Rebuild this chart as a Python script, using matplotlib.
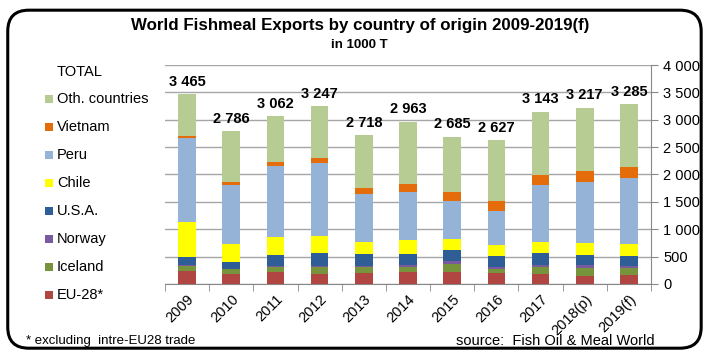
import matplotlib.pyplot as plt
import numpy as np
from matplotlib.patches import FancyBboxPatch, Rectangle

# Fishmeal exports, 1000 t, stacked bottom to top
years = ['2009', '2010', '2011', '2012', '2013', '2014', '2015', '2016', '2017', '2018(p)', '2019(f)']
totals = [3465, 2786, 3062, 3247, 2718, 2963, 2685, 2627, 3143, 3217, 3285]
eu28 = [240, 185, 225, 190, 200, 225, 225, 207, 188, 152, 164]
iceland = [85, 80, 80, 126, 110, 85, 140, 73, 116, 140, 128]
norway = [20, 18, 18, 18, 18, 30, 55, 30, 43, 49, 37]
usa = [155, 120, 200, 238, 213, 207, 206, 201, 213, 182, 176]
chile = [625, 323, 335, 310, 231, 261, 195, 207, 207, 231, 231]
peru = [1545, 1090, 1296, 1332, 864, 864, 700, 620, 1034, 1108, 1193]
vietnam = [30, 55, 73, 91, 121, 158, 152, 171, 188, 205, 201]
others = [t - e - i - n - u - c - p - v for t, e, i, n, u, c, p, v in
          zip(totals, eu28, iceland, norway, usa, chile, peru, vietnam)]

series = [
    ('EU-28*', eu28, '#b04541'),
    ('Iceland', iceland, '#77933c'),
    ('Norway', norway, '#7a5a9e'),
    ('U.S.A.', usa, '#2f5d95'),
    ('Chile', chile, '#ffff00'),
    ('Peru', peru, '#95b3d7'),
    ('Vietnam', vietnam, '#e46c0a'),
    ('Oth. countries', others, '#b7cc93'),
]

plt.rcParams['font.family'] = ['Liberation Sans Narrow', 'Liberation Sans', 'DejaVu Sans']

fig = plt.figure(figsize=(7.04, 3.51), dpi=100)
fig.patch.set_facecolor('white')

# rounded frame around the whole chart
frame = FancyBboxPatch((0.011, 0.008), 0.985, 0.963, boxstyle='round,pad=0,rounding_size=0.03',
                       transform=fig.transFigure, fill=False, edgecolor='black', linewidth=2.2,
                       mutation_aspect=2.0)
fig.patches.append(frame)

ax = fig.add_axes((0.2344, 0.1909, 0.6903, 0.6239))
x = np.arange(len(years))
bottom = np.zeros(len(years))
for name, vals, color in series:
    ax.bar(x, vals, width=0.4, bottom=bottom, color=color, zorder=3)
    bottom += np.array(vals)

for xi, t in zip(x, totals):
    ax.annotate(f'{t:,}'.replace(',', ' '), (xi, t), xytext=(0, 4), textcoords='offset points',
                ha='center', va='bottom', fontsize=10.5, fontweight='bold')

ax.set_xlim(-0.5, len(years) - 0.5)
ax.set_ylim(0, 4000)
ax.set_yticks(np.arange(0, 4001, 500))
ax.set_yticklabels([f'{v:,}'.replace(',', ' ') for v in range(0, 4001, 500)], fontsize=10.5)
ax.yaxis.tick_right()
ax.tick_params(axis='y', length=5, color='#888888', pad=4)
ax.grid(axis='y', color='#a6a6a6', linewidth=1, zorder=0)

ax.set_xticks(x)
ax.set_xticklabels(years, rotation=45, ha='right', rotation_mode='anchor', fontsize=10.5)
ax.set_xticks(np.arange(-0.5, len(years)), minor=True)
ax.tick_params(axis='x', which='major', length=0, pad=6)
ax.tick_params(axis='x', which='minor', length=5, color='#888888')

for side in ['top', 'left']:
    ax.spines[side].set_visible(False)
for side in ['bottom', 'right']:
    ax.spines[side].set_color('#888888')

fig.text(0.511, 0.928, 'World Fishmeal Exports by country of origin 2009-2019(f)',
         ha='center', va='center', fontsize=12.2, fontweight='bold')
fig.text(0.511, 0.872, 'in 1000 T', ha='center', va='center', fontsize=9.5, fontweight='bold')

# legend column on the left, top entry is the total label
fig.text(0.081, 0.795, 'TOTAL', ha='left', va='center', fontsize=10.5)
leg_y = 0.718
for name, vals, color in reversed(series):
    fig.patches.append(Rectangle((0.064, leg_y - 0.012), 0.0115, 0.023, transform=fig.transFigure,
                                 facecolor=color, edgecolor='none'))
    fig.text(0.081, leg_y, name, ha='left', va='center', fontsize=10.5)
    leg_y -= 0.0797

fig.text(0.037, 0.028, '* excluding  intre-EU28 trade', ha='left', va='center', fontsize=9.5)
fig.text(0.93, 0.028, 'source:  Fish Oil & Meal World', ha='right', va='center', fontsize=10.5)

fig.savefig('out.png', dpi=100, facecolor='white')
